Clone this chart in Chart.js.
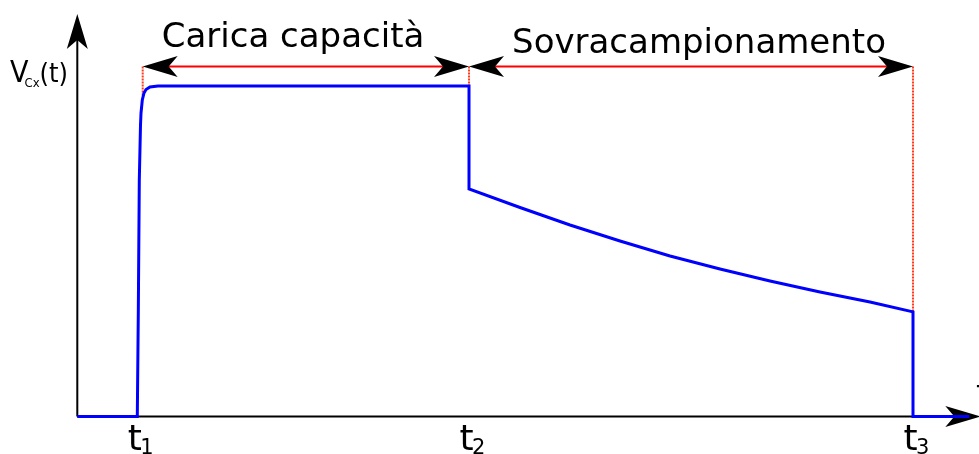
<!DOCTYPE html>
<html>
<head>
<meta charset="utf-8">
<script src="https://cdn.jsdelivr.net/npm/chart.js@4"></script>
<style>
  html, body { margin: 0; padding: 0; background: #fff; }
  #wrap { width: 979px; height: 454px; }
</style>
</head>
<body>
<div id="wrap"><canvas id="vcx" width="979" height="454"></canvas></div>
<script>
// forma d'onda V_Cx(t): tempo (u.a.) e tensione (u.a.)
const timeValues    = [0, 0.600, 0.610, 0.620, 0.632, 0.637, 0.650, 0.667, 0.687, 0.727, 0.807, 3.917,
                       3.917, 4.427, 4.927, 5.427, 5.927, 6.427, 6.927, 7.427, 7.927, 8.357, 8.357, 8.92];
const voltageValues = [0, 0, 1.035, 2.365, 2.915, 3.035, 3.165, 3.235, 3.270, 3.295, 3.305, 3.305,
                       2.275, 2.090, 1.915, 1.755, 1.605, 1.475, 1.355, 1.245, 1.145, 1.046, 0, 0];

// istanti sull'asse dei tempi
const tickTimes = [0.600, 3.917, 8.357];
const tickSubs = ['1', '2', '3'];

// quote in rosso sopra il grafico
const spanLabels = ['Carica capacità', 'Sovracampionamento'];
const spanStart = [0.654, 3.917];
const spanEnd = [3.917, 8.357];
const spanLevel = 3.5;

// linee di riferimento tratteggiate (x, y inferiore)
const guideTimes = [0.654, 3.917, 8.357];
const guideBottoms = [3.2, 2.275, 1.046];

const points = timeValues.map((t, i) => ({ x: t, y: voltageValues[i] }));

// posizione dei testi delle quote (centro, linea di base)
const spanTextX = [293, 699];
const spanTextY = [47, 53];

function arrowHead(ctx, tx, ty, dx, dy) {
    const len = 35, half = 10.5, notch = 9;
    const px = -dy, py = dx;
    ctx.beginPath();
    ctx.moveTo(tx, ty);
    ctx.lineTo(tx - dx * len + px * half, ty - dy * len + py * half);
    ctx.lineTo(tx - dx * (len - notch), ty - dy * (len - notch));
    ctx.lineTo(tx - dx * len - px * half, ty - dy * len - py * half);
    ctx.closePath();
    ctx.fillStyle = '#000';
    ctx.fill();
}

function label(ctx, text, x, y, size, align, family) {
    ctx.font = size + 'px ' + (family || '"DejaVu Sans"');
    ctx.textAlign = align;
    ctx.textBaseline = 'alphabetic';
    ctx.fillStyle = '#000';
    ctx.fillText(text, x, y);
}

const diagram = {
    id: 'diagram',
    beforeDatasetsDraw(chart) {
        const { ctx, scales: { x, y } } = chart;
        const x0 = x.getPixelForValue(0), y0 = y.getPixelForValue(0);
        ctx.save();
        // assi
        ctx.strokeStyle = '#000';
        ctx.lineWidth = 2;
        ctx.beginPath();
        ctx.moveTo(x0, y0);
        ctx.lineTo(x0, y.getPixelForValue(3.9));
        ctx.moveTo(x0, y0);
        ctx.lineTo(x.getPixelForValue(8.9), y0);
        ctx.stroke();
        arrowHead(ctx, x0, y.getPixelForValue(4.025), 0, -1);
        arrowHead(ctx, x.getPixelForValue(9.03), y0, 1, 0);

        // riferimenti verticali
        ctx.strokeStyle = '#ff3b1f';
        ctx.lineWidth = 2;
        ctx.setLineDash([2, 1]);
        guideTimes.forEach((t, i) => {
            const gx = x.getPixelForValue(t);
            ctx.beginPath();
            ctx.moveTo(gx, y.getPixelForValue(spanLevel));
            ctx.lineTo(gx, y.getPixelForValue(guideBottoms[i]));
            ctx.stroke();
        });
        ctx.restore();
    },
    afterDatasetsDraw(chart) {
        const { ctx, scales: { x, y } } = chart;
        ctx.save();
        const sy = y.getPixelForValue(spanLevel);
        spanLabels.forEach((text, i) => {
            const a = x.getPixelForValue(spanStart[i]);
            const b = x.getPixelForValue(spanEnd[i]);
            ctx.strokeStyle = '#ff0000';
            ctx.lineWidth = 2;
            ctx.beginPath();
            ctx.moveTo(a + 20, sy);
            ctx.lineTo(b - 20, sy);
            ctx.stroke();
            arrowHead(ctx, a, sy, -1, 0);
            arrowHead(ctx, b, sy, 1, 0);
            label(ctx, text, spanTextX[i], spanTextY[i], 34, 'center');
        });

        // etichette dei tempi
        tickTimes.forEach((t, i) => {
            const tx = x.getPixelForValue(t) - 9.5;
            label(ctx, 't', tx, 450, 36, 'left');
            label(ctx, tickSubs[i], tx + 12.5, 454, 21, 'left');
        });
        label(ctx, 't', 976, 404, 34, 'left');

        // etichetta asse verticale
        label(ctx, 'V', 10, 82, 30, 'left', '"DejaVu Sans Condensed"');
        label(ctx, 'Cx', 24.5, 87, 13, 'left', '"DejaVu Sans Condensed"');
        label(ctx, '(t)', 39.5, 82, 27, 'left', '"DejaVu Sans Condensed"');
        ctx.restore();
    }
};

new Chart(document.getElementById('vcx'), {
    type: 'line',
    data: {
        datasets: [{
            data: points,
            borderColor: '#0000ff',
            borderWidth: 3,
            pointRadius: 0,
            tension: 0,
            fill: false,
            clip: 6
        }]
    },
    options: {
        responsive: false,
        animation: false,
        layout: { padding: { left: 77.3, right: 1.7, top: 16.5, bottom: 37.5 } },
        plugins: { legend: { display: false }, tooltip: { enabled: false } },
        scales: {
            x: { type: 'linear', min: 0, max: 9, display: false },
            y: { type: 'linear', min: 0, max: 4, display: false }
        }
    },
    plugins: [diagram]
});
</script>
</body>
</html>
